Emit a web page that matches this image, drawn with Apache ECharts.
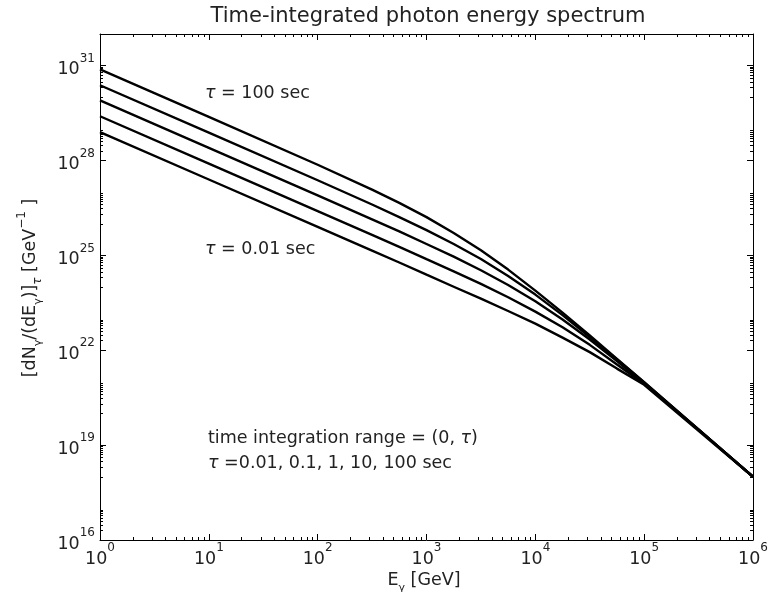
<!DOCTYPE html>
<html>
<head>
    <meta charset="utf-8">
    <title>Time-integrated photon energy spectrum</title>
    <script src="https://cdn.jsdelivr.net/npm/echarts@6/dist/echarts.min.js"></script>
    <style>
        html, body { margin: 0; padding: 0; background: #fff; }
        #chart { width: 780px; height: 592px; }
    </style>
</head>
<body>
    <div id="chart"></div>
    <script>
        // photon energy [GeV]
        var energy = [1, 10, 100, 316, 562, 1000, 1778, 3162, 5623, 1e4, 17783, 31623, 56234, 1e5, 316228, 1e6];
        // dN/dE for each integration time tau
        var tau100 = [7.59e30, 2.40e29, 7.33e27, 1.20e27, 4.57e26, 1.62e26, 5.13e25, 1.45e25, 3.55e24, 7.67e23, 1.55e23, 2.92e22, 5.37e21, 9.77e20, 3.16e19, 1.0e18];
        var tau10 = [2.40e30, 7.59e28, 2.37e27, 4.07e26, 1.62e26, 6.31e25, 2.29e25, 7.67e24, 2.24e24, 5.75e23, 1.29e23, 2.63e22, 5.13e21, 9.55e20, 3.09e19, 1.0e18];
        var tau1 = [7.94e29, 2.51e28, 7.94e26, 1.38e26, 5.75e25, 2.29e25, 9.12e24, 3.39e24, 1.16e24, 3.55e23, 9.33e22, 2.19e22, 4.57e21, 8.91e20, 3.09e19, 1.0e18];
        var tau01 = [2.51e29, 7.94e27, 2.51e26, 4.47e25, 1.86e25, 7.59e24, 3.13e24, 1.26e24, 4.73e23, 1.66e23, 5.31e22, 1.48e22, 3.55e21, 8.51e20, 3.02e19, 1.0e18];
        var tau001 = [7.94e28, 2.51e27, 7.94e25, 1.41e25, 5.96e24, 2.45e24, 1.02e24, 4.27e23, 1.74e23, 6.92e22, 2.51e22, 8.71e21, 2.63e21, 8.13e20, 2.82e19, 1.0e18];
        // tick exponents
        var xTickExp = [0, 1, 2, 3, 4, 5, 6];
        var yTickExp = [16, 19, 22, 25, 28, 31];
        var yMinorExp = [16, 18, 20, 22, 24, 26, 28, 30];

        var FONT = 'DejaVu Sans';
        var INK = '#222';

        function pow10(list) {
            return list.map(function (e) { return Math.pow(10, e); });
        }

        var xMinor = [];
        for (var d = 0; d < 6; d++) {
            for (var k = 2; k <= 9; k++) xMinor.push(k * Math.pow(10, d));
        }
        var yMinor = [];
        yMinorExp.forEach(function (e) {
            for (var k = 1; k <= 9; k++) {
                if (k === 1 && yTickExp.indexOf(e) >= 0) continue;
                yMinor.push(k * Math.pow(10, e));
            }
        });

        var labelRich = {
            b: { fontFamily: FONT, fontSize: 17.5, color: INK, lineHeight: 26, verticalAlign: 'bottom' },
            e: { fontFamily: FONT, fontSize: 12, color: INK, lineHeight: 13, verticalAlign: 'top' }
        };

        function expLabel(v) {
            var e = Math.round(Math.log(v) / Math.LN10);
            return '{b|10}{e|' + e + '}';
        }

        function axis(kind, pos, ticks, len, main) {
            return {
                type: 'log',
                logBase: 10,
                position: pos,
                min: kind === 'x' ? 1 : 1e16,
                max: kind === 'x' ? 1e6 : 1e32,
                silent: true,
                splitLine: { show: false },
                axisLine: { show: main, onZero: false, lineStyle: { color: '#000', width: 1 } },
                axisTick: { show: true, inside: true, length: len, customValues: ticks, lineStyle: { color: '#000', width: 1 } },
                axisLabel: { show: false }
            };
        }

        var xMain = axis('x', 'bottom', pow10(xTickExp), 6, true);
        xMain.axisLabel = { show: true, customValues: pow10(xTickExp), formatter: expLabel, margin: 2, rich: labelRich };
        var yMain = axis('y', 'left', pow10(yTickExp), 6, true);
        yMain.axisLabel = { show: true, customValues: pow10(yTickExp), formatter: expLabel, margin: 5, rich: labelRich };

        var curves = [tau100, tau10, tau1, tau01, tau001];

        var tauRich = {
            i: { fontFamily: FONT, fontStyle: 'italic', fontSize: 17.5, fill: INK }
        };
        var subRich = {
            t: { fontFamily: FONT, fontSize: 17.5, fill: INK, lineHeight: 28, verticalAlign: 'middle' },
            s: { fontFamily: FONT, fontSize: 11, fill: INK, lineHeight: 11, verticalAlign: 'bottom' },
            si: { fontFamily: FONT, fontStyle: 'italic', fontSize: 12, fill: INK, lineHeight: 11, verticalAlign: 'bottom' },
            p: { fontFamily: FONT, fontSize: 12, fill: INK, lineHeight: 12, verticalAlign: 'top' }
        };

        function note(x, y, text) {
            return {
                type: 'text', x: x, y: y, silent: true,
                style: { text: text, rich: tauRich, font: '17.5px DejaVu Sans', fill: INK, verticalAlign: 'middle' }
            };
        }

        var chart = echarts.init(document.getElementById('chart'));
        var option = {
            animation: false,
            backgroundColor: '#fff',
            grid: { left: 100, right: 27, top: 34, bottom: 52, show: false },
            xAxis: [
                xMain,
                axis('x', 'bottom', xMinor, 3, false),
                axis('x', 'top', pow10(xTickExp), 6, true),
                axis('x', 'top', xMinor, 3, false)
            ],
            yAxis: [
                yMain,
                axis('y', 'left', yMinor, 3, false),
                axis('y', 'right', pow10(yTickExp), 6, true),
                axis('y', 'right', yMinor, 3, false)
            ],
            graphic: [
                {
                    type: 'text', x: 428, y: 17, silent: true,
                    style: { text: 'Time-integrated photon energy spectrum', font: '21px DejaVu Sans', fill: INK, align: 'center', verticalAlign: 'middle' }
                },
                {
                    type: 'text', x: 424, y: 580, silent: true,
                    style: { text: '{t|E}{s|γ}{t| [GeV]}', rich: subRich, align: 'center', verticalAlign: 'middle' }
                },
                {
                    type: 'text', x: 30, y: 288, rotation: Math.PI / 2, silent: true,
                    style: { text: '{t|[dN}{s|γ}{t|/(dE}{s|γ}{t|)]}{si|τ}{t| [GeV}{p|−1}{t| ]}', rich: subRich, align: 'center', verticalAlign: 'middle' }
                },
                note(205, 93, '{i|τ} = 100 sec'),
                note(205, 249, '{i|τ} = 0.01 sec'),
                note(208, 438, 'time integration range = (0, {i|τ})'),
                note(208, 463, '{i|τ} =0.01, 0.1, 1, 10, 100 sec')
            ],
            series: curves.map(function (c) {
                return {
                    type: 'line',
                    xAxisIndex: 0,
                    yAxisIndex: 0,
                    data: energy.map(function (x, i) { return [x, c[i]]; }),
                    showSymbol: false,
                    smooth: false,
                    silent: true,
                    lineStyle: { color: '#000', width: 2.4 }
                };
            })
        };
        chart.setOption(option);
    </script>
</body>
</html>
